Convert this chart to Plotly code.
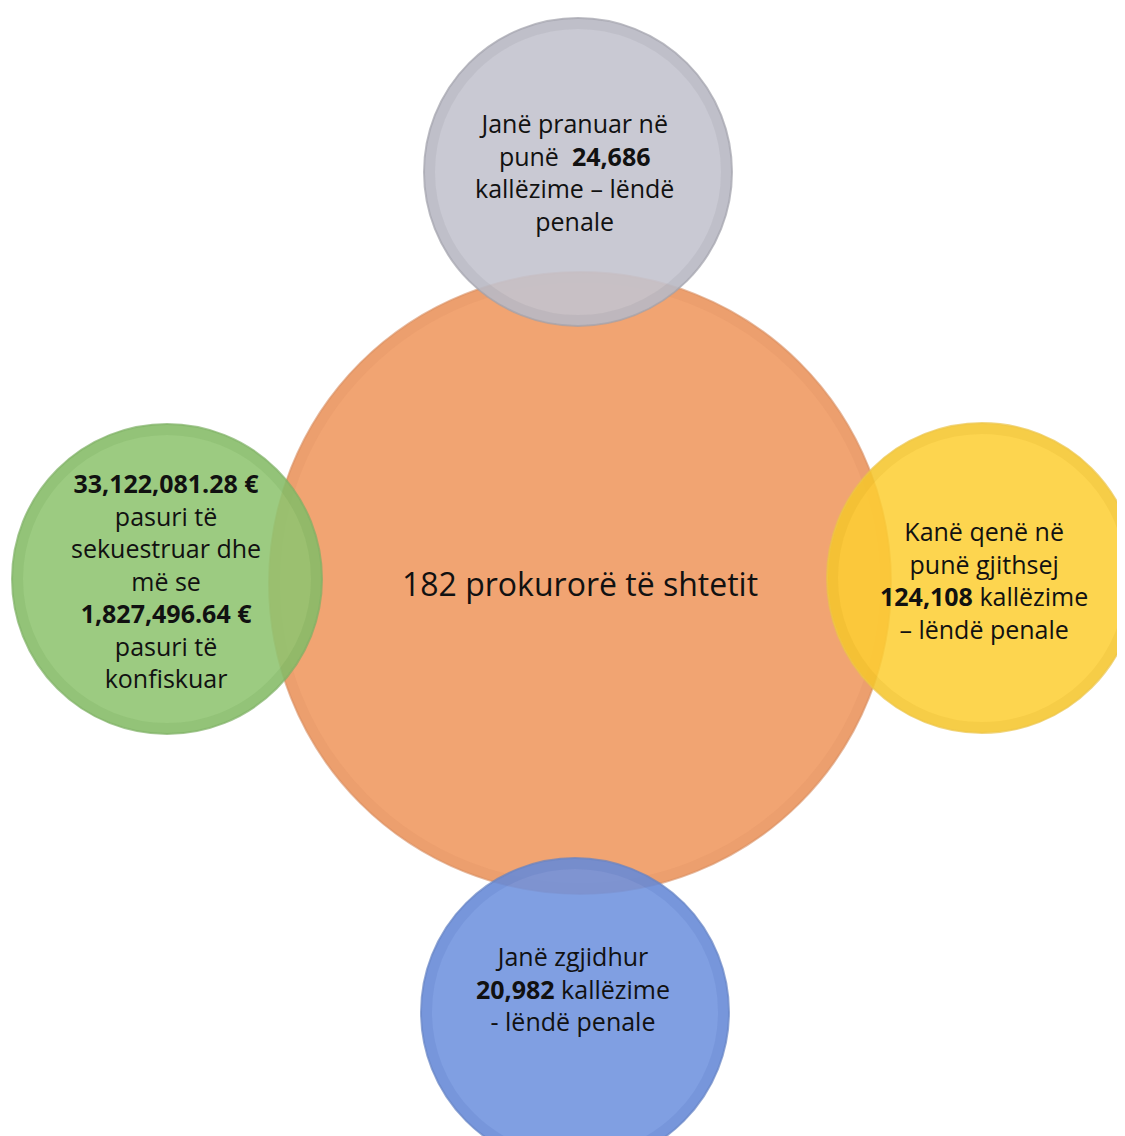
import plotly.graph_objects as go

# ---- data ----
center_label = "182 prokurorë të shtetit"
node_names = ["pranuar", "punë", "zgjidhur", "pasuri"]
node_texts = [
    "Janë pranuar në<br>punë  <b>24,686</b><br>kallëzime – lëndë<br>penale",
    "Kanë qenë në<br>punë gjithsej<br><b>124,108</b> kallëzime<br>– lëndë penale",
    "Janë zgjidhur<br><b>20,982</b> kallëzime<br>- lëndë penale",
    "<b>33,122,081.28 €</b><br>pasuri të<br>sekuestruar dhe<br>më se<br><b>1,827,496.64 €</b><br>pasuri të<br>konfiskuar",
]

# ---- layout / styling (not data) ----
W, H = 1125, 1136
OFF = 8  # page body margin
center_pos = (580, 583)
center_r = 311
node_pos = [(578, 172), (982, 578), (575, 1012), (167, 579)]
node_r = [154, 155, 154, 155]
node_text_pos = [(574, 172), (984, 580), (573, 988), (166, 580)]
node_fill = ["rgba(195,195,206,0.90)", "rgba(253,206,50,0.86)",
             "rgba(110,146,222,0.88)", "rgba(142,196,112,0.88)"]
node_line = ["rgba(160,160,170,0.7)", "rgba(235,195,70,0.7)",
             "rgba(100,130,195,0.7)", "rgba(125,175,100,0.7)"]
node_rim = ["rgba(120,120,135,0.12)", "rgba(200,150,20,0.12)",
            "rgba(60,90,170,0.12)", "rgba(80,140,60,0.12)"]

fig = go.Figure()
fig.add_trace(go.Scatter(x=[OFF, W], y=[OFF, H], mode="markers",
                         marker=dict(opacity=0), hoverinfo="skip", showlegend=False))

shapes = []
cx, cy = center_pos
shapes.append(dict(type="circle", xref="x", yref="y",
                   x0=cx - center_r, x1=cx + center_r, y0=cy - center_r, y1=cy + center_r,
                   fillcolor="#F1A472", line=dict(color="rgba(215,140,95,0.6)", width=2),
                   layer="below"))
shapes.append(dict(type="circle", xref="x", yref="y",
                   x0=cx - center_r + 6, x1=cx + center_r - 6,
                   y0=cy - center_r + 6, y1=cy + center_r - 6,
                   fillcolor="rgba(0,0,0,0)", line=dict(color="rgba(200,120,80,0.10)", width=10),
                   layer="below"))
for (x, y), r, fc, lc, rc in zip(node_pos, node_r, node_fill, node_line, node_rim):
    shapes.append(dict(type="circle", xref="x", yref="y",
                       x0=x - r, x1=x + r, y0=y - r, y1=y + r,
                       fillcolor=fc, line=dict(color=lc, width=2),
                       layer="below"))
    shapes.append(dict(type="circle", xref="x", yref="y",
                       x0=x - r + 6, x1=x + r - 6, y0=y - r + 6, y1=y + r - 6,
                       fillcolor="rgba(0,0,0,0)", line=dict(color=rc, width=10),
                       layer="below"))

annotations = [dict(x=cx, y=cy, xref="x", yref="y", text=center_label, showarrow=False,
                    font=dict(family="Open Sans", size=32, color="#111111"))]
for (x, y), t in zip(node_text_pos, node_texts):
    annotations.append(dict(x=x, y=y, xref="x", yref="y", text=t, showarrow=False,
                            align="center",
                            font=dict(family="Open Sans", size=25, color="#111111")))

fig.update_layout(
    width=W - OFF, height=H - OFF,
    margin=dict(l=0, r=0, t=0, b=0),
    paper_bgcolor="white", plot_bgcolor="white",
    xaxis=dict(range=[OFF, W], visible=False, fixedrange=True),
    yaxis=dict(range=[H, OFF], visible=False, fixedrange=True),
    shapes=shapes, annotations=annotations, showlegend=False,
)
fig.write_html("out.html")
